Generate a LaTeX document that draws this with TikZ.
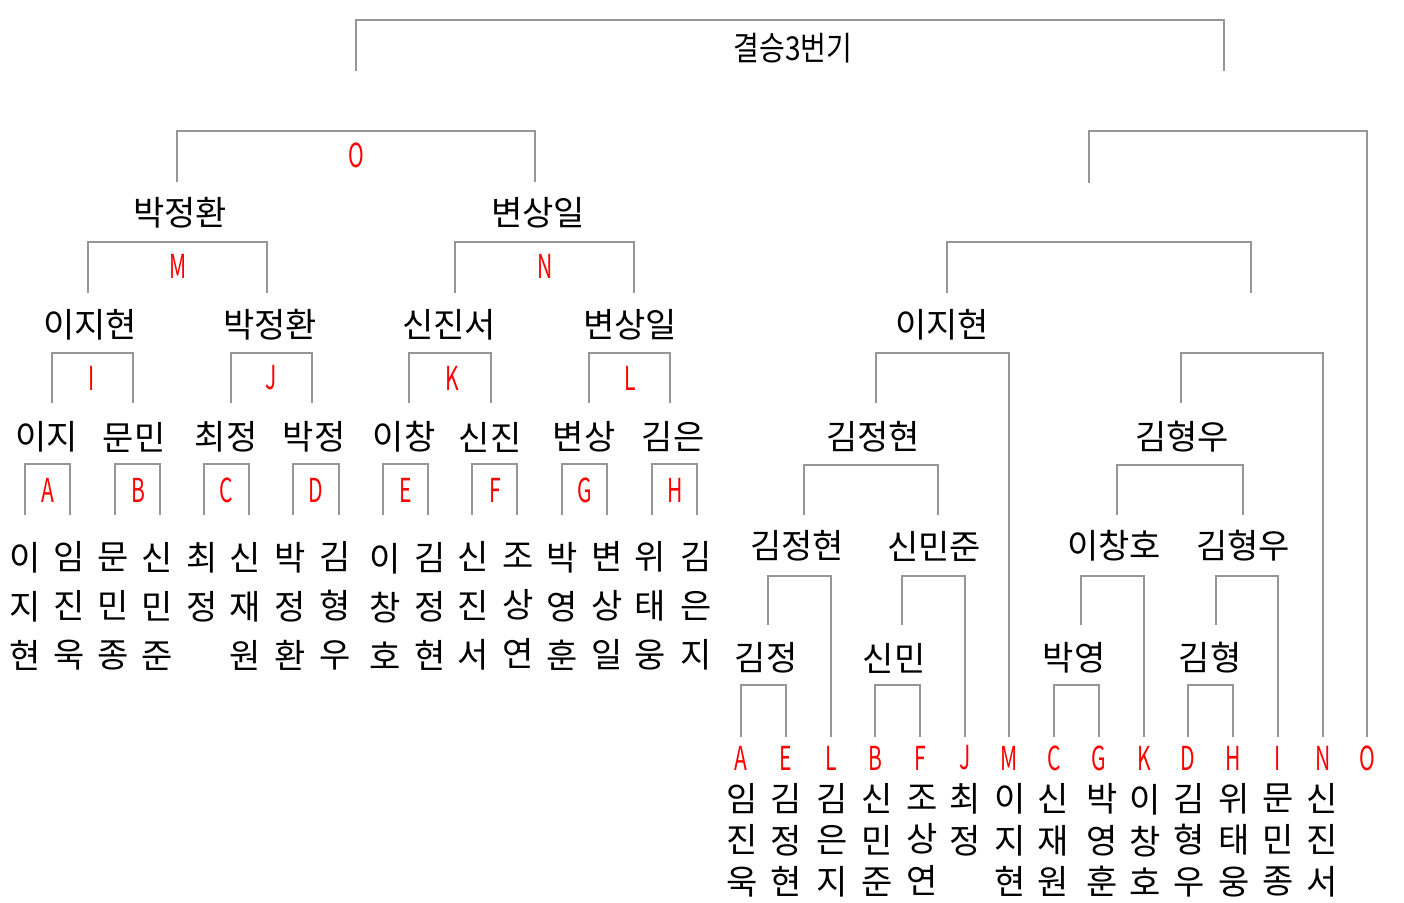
\documentclass[tikz,border=0pt]{standalone}
\usepackage{fontspec}
\setmainfont{Noto Sans CJK KR}
\definecolor{linegray}{RGB}{150,150,150}
\newcommand\nar[1]{\scalebox{0.64}[1]{#1}}
\newcommand\brk[6]{%
  \coordinate (#1-bl) at (#2,#5);
  \coordinate (#1-tl) at (#2,#4);
  \coordinate (#1-tr) at (#3,#4);
  \coordinate (#1-br) at (#3,#6);
  \draw[conn] (#1-bl) -- (#1-tl) -- (#1-tr) -- (#1-br);}
\tikzset{
  conn/.style={draw=linegray, line width=2.4pt},
  lbl/.style={inner sep=0pt, font=\fontsize{34}{40}\selectfont},
  rl/.style={inner sep=0pt, text=red, font=\fontsize{33}{38}\selectfont},
  leafL/.style={inner sep=0pt, align=center, font=\fontsize{34}{49}\selectfont},
  leafR/.style={inner sep=0pt, align=center, font=\fontsize{34}{41.5}\selectfont},
}
\begin{document}
\begin{tikzpicture}[x=1pt,y=-1pt]
\fill[white] (0,0) rectangle (1404,902);
\useasboundingbox (0,0) rectangle (1404,902);

% ---------- top ----------
\brk{top}{356}{1224}{20}{71}{71}
\node[lbl, font=\fontsize{33}{38}\selectfont] (final) at (793,48) {\scalebox{0.85}[1]{결승3번기}};

% ---------- left tree ----------
\brk{bO}{177}{535}{131}{182}{182}
\node[rl] (lO) at (356,155) {\nar{O}};
\node[lbl] (w1) at (180,213) {박정환};
\node[lbl] (w2) at (538,213) {변상일};

\brk{bM}{88}{267}{242}{293}{293}
\node[rl] (lM) at (178,266) {\nar{M}};
\brk{bN}{455}{634}{242}{293}{293}
\node[rl] (lN) at (545,266) {\nar{N}};

\node[lbl] (s1) at (90,325) {이지현};
\node[lbl] (s2) at (270,325) {박정환};
\node[lbl] (s3) at (449,325) {신진서};
\node[lbl] (s4) at (630,325) {변상일};

\brk{bI}{52}{133}{353}{403}{403}
\node[rl] (lI) at (92,378) {\nar{I}};
\brk{bJ}{231}{312}{353}{403}{403}
\node[rl] (lJ) at (271,378) {\nar{J}};
\brk{bK}{409}{491}{353}{403}{403}
\node[rl] (lK) at (452,378) {\nar{K}};
\brk{bL}{589}{670}{353}{403}{403}
\node[rl] (lL) at (630,378) {\nar{L}};

\node[lbl] (t1) at (47,437) {이지};
\node[lbl] (t2) at (134,437) {문민};
\node[lbl] (t3) at (226,437) {최정};
\node[lbl] (t4) at (314,437) {박정};
\node[lbl] (t5) at (404,437) {이창};
\node[lbl] (t6) at (490,437) {신진};
\node[lbl] (t7) at (584,437) {변상};
\node[lbl] (t8) at (673,437) {김은};

\brk{bA}{25}{70}{464}{515}{515}
\node[rl] (lA) at (48,490) {\nar{A}};
\brk{bB}{115}{160}{464}{515}{515}
\node[rl] (lB) at (138,490) {\nar{B}};
\brk{bC}{204}{249}{464}{515}{515}
\node[rl] (lC) at (226,490) {\nar{C}};
\brk{bD}{293}{339}{464}{515}{515}
\node[rl] (lD) at (316,490) {\nar{D}};
\brk{bE}{383}{428}{464}{515}{515}
\node[rl] (lE) at (406,490) {\nar{E}};
\brk{bF}{472}{517}{464}{515}{515}
\node[rl] (lF) at (495,490) {\nar{F}};
\brk{bG}{562}{607}{464}{515}{515}
\node[rl] (lG) at (585,490) {\nar{G}};
\brk{bH}{652}{697}{464}{515}{515}
\node[rl] (lH) at (675,490) {\nar{H}};

\node[leafL] (p1)  at (25,606)  {이\\지\\현};
\node[leafL] (p2)  at (69,606)  {임\\진\\욱};
\node[leafL] (p3)  at (113,606) {문\\민\\종};
\node[leafL] (p4)  at (157,606) {신\\민\\준};
\node[leafL] (p5)  at (202,606) {최\\정\\\phantom{원}};
\node[leafL] (p6)  at (245,606) {신\\재\\원};
\node[leafL] (p7)  at (290,606) {박\\정\\환};
\node[leafL] (p8)  at (335,606) {김\\형\\우};
\node[leafL] (p9)  at (385,606) {이\\창\\호};
\node[leafL] (p10) at (430,606) {김\\정\\현};
\node[leafL] (p11) at (473,606) {신\\진\\서};
\node[leafL] (p12) at (518,606) {조\\상\\연};
\node[leafL] (p13) at (562,606) {박\\영\\훈};
\node[leafL] (p14) at (607,606) {변\\상\\일};
\node[leafL] (p15) at (650,606) {위\\태\\웅};
\node[leafL] (p16) at (696,606) {김\\은\\지};

% ---------- right tree ----------
\brk{r1}{1089}{1367}{131}{183}{737}
\brk{r2}{947}{1251}{242}{293}{293}
\node[lbl] (u1) at (942,325) {이지현};
\brk{r3}{876}{1009}{353}{403}{737}
\brk{r4}{1181}{1323}{353}{403}{737}
\node[lbl] (u2) at (873,437) {김정현};
\node[lbl] (u3) at (1182,437) {김형우};
\brk{r5}{804}{938}{465}{515}{515}
\brk{r6}{1117}{1243}{465}{515}{515}
\node[lbl] (v1) at (797,546) {김정현};
\node[lbl] (v2) at (934,546) {신민준};
\node[lbl] (v3) at (1114,546) {이창호};
\node[lbl] (v4) at (1243,546) {김형우};
\brk{r7}{768}{831}{576}{625}{737}
\brk{r8}{902}{965}{576}{625}{737}
\brk{r9}{1081}{1144}{576}{625}{737}
\brk{r10}{1216}{1278}{576}{625}{737}
\node[lbl] (y1) at (766,658) {김정};
\node[lbl] (y2) at (894,658) {신민};
\node[lbl] (y3) at (1074,658) {박영};
\node[lbl] (y4) at (1210,658) {김형};
\brk{r11}{741}{786}{685}{737}{737}
\brk{r12}{875}{920}{685}{737}{737}
\brk{r13}{1054}{1099}{685}{737}{737}
\brk{r14}{1188}{1233}{685}{737}{737}

\node[rl] (qA) at (741,758)  {\nar{A}};
\node[rl] (qE) at (786,758)  {\nar{E}};
\node[rl] (qL) at (831,758)  {\nar{L}};
\node[rl] (qB) at (875,758)  {\nar{B}};
\node[rl] (qF) at (920,758)  {\nar{F}};
\node[rl] (qJ) at (965,758)  {\nar{J}};
\node[rl] (qM) at (1009,758) {\nar{M}};
\node[rl] (qC) at (1054,758) {\nar{C}};
\node[rl] (qG) at (1099,758) {\nar{G}};
\node[rl] (qK) at (1144,758) {\nar{K}};
\node[rl] (qD) at (1188,758) {\nar{D}};
\node[rl] (qH) at (1233,758) {\nar{H}};
\node[rl] (qI) at (1278,758) {\nar{I}};
\node[rl] (qN) at (1323,758) {\nar{N}};
\node[rl] (qO) at (1367,758) {\nar{O}};

\node[leafR] (z1)  at (742,840)  {임\\진\\욱};
\node[leafR] (z2)  at (786,840)  {김\\정\\현};
\node[leafR] (z3)  at (832,840)  {김\\은\\지};
\node[leafR] (z4)  at (877,840)  {신\\민\\준};
\node[leafR] (z5)  at (922,840)  {조\\상\\연};
\node[leafR] (z6)  at (965,840)  {최\\정\\\phantom{원}};
\node[leafR] (z7)  at (1010,840) {이\\지\\현};
\node[leafR] (z8)  at (1053,840) {신\\재\\원};
\node[leafR] (z9)  at (1102,840) {박\\영\\훈};
\node[leafR] (z10) at (1145,840) {이\\창\\호};
\node[leafR] (z11) at (1189,840) {김\\형\\우};
\node[leafR] (z12) at (1234,840) {위\\태\\웅};
\node[leafR] (z13) at (1278,840) {문\\민\\종};
\node[leafR] (z14) at (1322,840) {신\\진\\서};
\end{tikzpicture}
\end{document}
